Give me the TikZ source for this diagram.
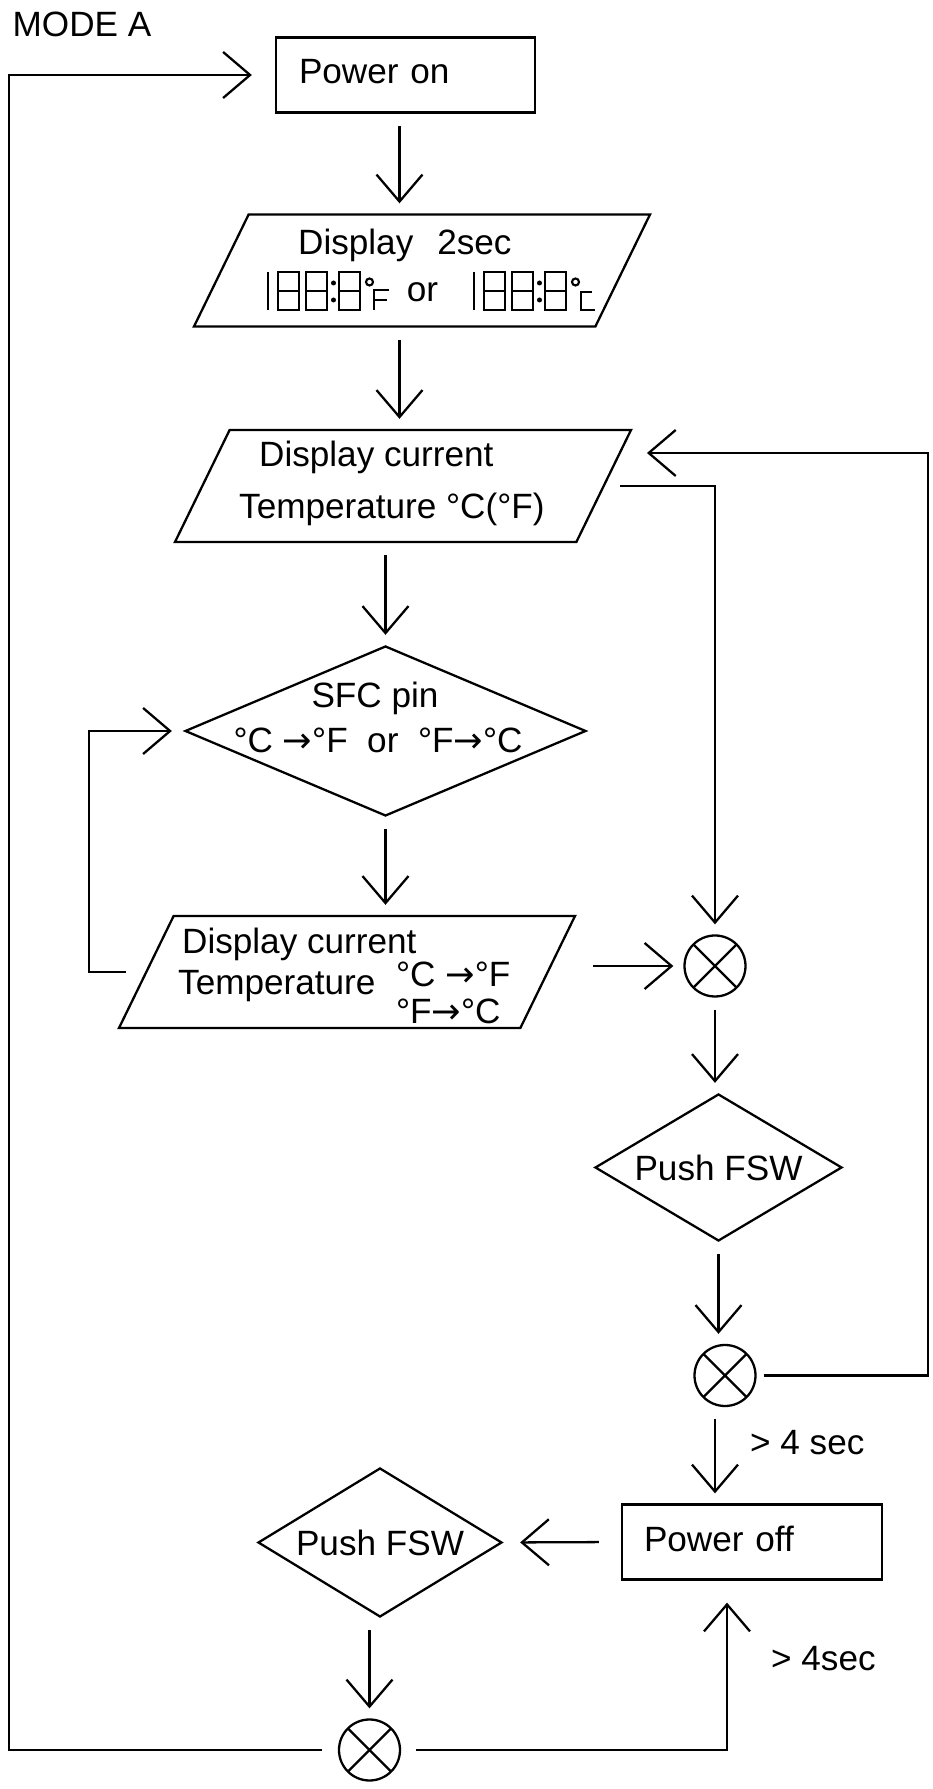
\documentclass[tikz,border=0pt]{standalone}
\usepackage{fontspec}
\setmainfont{Liberation Sans}
\newfontfamily\arrowfont{DejaVu Sans}
\newcommand\toarrow{{\arrowfont →}}
\usetikzlibrary{shapes.geometric,arrows.meta,positioning}

\tikzset{
  segrow/.pic={
    \draw (0,0) -- (0,0.76);
    \foreach \sx in {0.2,0.76,1.42}
      \draw (\sx,0) rectangle ++(0.42,0.76) (\sx,0.38) -- ++(0.42,0);
    \fill (1.31,0.2) circle (0.05) (1.31,0.54) circle (0.05);
    \draw (2.03,0.56) circle (0.07);
  },
  unitF/.pic={\draw (0.3,0.4) -- (0,0.4) -- (0,0) (0,0.2) -- (0.26,0.2);},
  unitC/.pic={\draw (0.22,0.36) -- (0,0.36) -- (0,0) -- (0.28,0);}
}

\begin{document}
\begin{tikzpicture}[
  font=\fontsize{20}{24}\selectfont,
  line width=1.3pt,
  flow/.style={-{Straight Barb[length=0.54cm,width=0.92cm]}, shorten <=0.24cm, shorten >=0.2cm},
  proc/.style={draw, rectangle, minimum height=1.5cm, align=left, inner ysep=0pt, text depth=0.14cm},
  io/.style={draw, trapezium, trapezium left angle=64, trapezium right angle=116,
    trapezium stretches body, minimum width=9.12cm, text height=2.24cm, text depth=0pt, inner sep=0pt},
  decision/.style={draw, diamond, inner sep=0pt},
  junc/.style={draw, circle, minimum size=1.22cm, inner sep=0pt,
    path picture={\draw[line width=1.3pt] (path picture bounding box.north west) -- (path picture bounding box.south east)
      (path picture bounding box.south west) -- (path picture bounding box.north east);}},
  txt/.style={inner sep=0pt},
  seg/.style={line width=1.2pt}
]
\useasboundingbox (0,0) rectangle (18.66,35.78);

\node[txt, anchor=base west] (mode) at (0.23,35.05) {MODE A};

\node[proc, text width=4.26cm, inner xsep=0.46cm] (poweron) at (8.11,34.28) {Power on};

\node[io] (dispA) at (8.44,30.37) {};
\node[txt, anchor=base west] (dispAtxt) at (5.94,30.68) {Display\hspace{0.48cm}2sec};
\pic[seg] at (5.36,29.58) {segrow};
\pic[seg] at (7.48,29.58) {unitF};
\node[txt, anchor=base] (dispAor) at (8.45,29.74) {or};
\pic[seg] at (9.48,29.58) {segrow};
\pic[seg] at (11.62,29.58) {unitC};

\node[io] (dispB) at (8.06,26.06) {};
\node[txt, anchor=base west] (dispBa) at (5.16,26.44) {Display current};
\node[txt, anchor=base west] (dispBb) at (4.76,25.40) {Temperature °C(°F)};

\node[decision, minimum width=8.02cm, minimum height=3.4cm] (sfc) at (7.71,21.16) {};
\node[txt, anchor=base] (sfca) at (7.50,21.62) {SFC pin};
\node[txt, anchor=base] (sfcb) at (7.56,20.72) {°C \toarrow°F\ \ or\ \ °F\toarrow°C};

\node[io] (dispC) at (6.94,16.34) {};
\node[txt, anchor=base west] (dispCa) at (3.62,16.70) {Display current};
\node[txt, anchor=base west] (dispCb) at (3.54,15.88) {Temperature};
\node[txt, anchor=base west] (dispCc) at (7.90,16.04) {°C \toarrow°F};
\node[txt, anchor=base west] (dispCd) at (7.90,15.30) {°F\toarrow°C};

\node[junc] (circA) at (14.30,16.46) {};
\node[decision, minimum width=4.94cm, minimum height=2.94cm, aspect=1.68] (pushA) at (14.37,12.43) {Push FSW};
\node[junc] (circB) at (14.50,8.27) {};
\node[proc, text width=4.32cm, inner xsep=0.44cm] (poweroff) at (15.04,4.94) {Power off};
\node[decision, minimum width=4.88cm, minimum height=2.98cm, aspect=1.64] (pushB) at (7.60,4.93) {Push FSW};
\node[junc] (circC) at (7.39,0.78) {};

\coordinate (leftrail) at (0.18,0);
\coordinate (loopleft) at (1.78,0);
\coordinate (rightrail) at (18.56,0);
\coordinate (riser) at (14.54,0);

\draw[flow] ([xshift=-0.12cm]poweron.south) -- ([xshift=-0.12cm]poweron.south |- dispA.north);
\draw[flow] ([xshift=-0.12cm]dispA.south -| poweron.south) -- ([xshift=-0.12cm]dispB.north -| poweron.south);
\draw[flow] (dispB.south -| sfc.north) -- (sfc.north);
\draw[flow] (sfc.south) -- (sfc.south |- dispC.north);
\draw[flow, shorten <=0.38cm, shorten >=0.24cm] (dispC.left side) -- (dispC.left side -| loopleft) |- (sfc.west);
\draw[flow, shorten <=0.3cm] (dispB.right side) -| (circA.north);
\draw[flow, shorten <=0.89cm] (dispC.right side |- circA.west) -- (circA.west);
\draw[flow] (circA.south) -- (circA.south |- pushA.north);
\draw[flow] (pushA.south) -- (pushA.south |- circB.north);
\draw[flow, shorten <=0.14cm, shorten >=0.84cm] (circB.east) -- (circB.east -| rightrail) |- ([yshift=0.66cm]dispB.right side);
\draw[flow] (circB.south -| circA.south) -- node[txt, right=0.68cm, pos=0.37] {> 4 sec} (circA.south |- poweroff.north);
\draw[flow, shorten <=0.44cm, shorten >=0.34cm] (poweroff.west) -- (pushB.east);
\draw[flow] (pushB.south -| circC.north) -- (circC.north);
\draw[flow, shorten <=0.32cm, shorten >=0.46cm] (circC.west) -- (circC.west -| leftrail) |- (poweron.west);
\draw[flow, shorten <=0.30cm, shorten >=0.44cm] (circC.east) -- (circC.east -| riser) -- node[txt, right=0.86cm, pos=0.54] {> 4sec} (riser |- poweroff.south);
\end{tikzpicture}
\end{document}
